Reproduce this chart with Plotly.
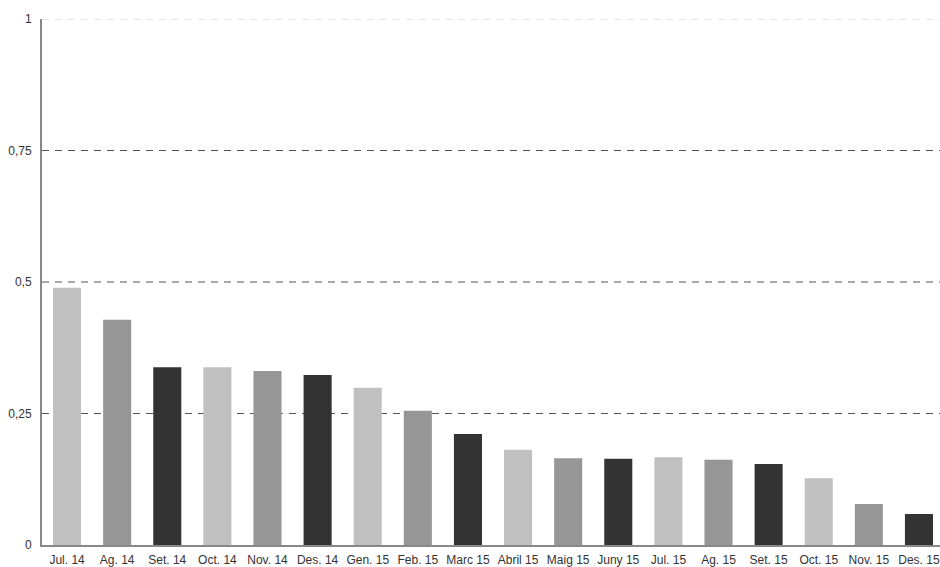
import plotly.graph_objects as go

categories = ["Jul. 14", "Ag. 14", "Set. 14", "Oct. 14", "Nov. 14", "Des. 14",
              "Gen. 15", "Feb. 15", "Marc 15", "Abril 15", "Maig 15", "Juny 15",
              "Jul. 15", "Ag. 15", "Set. 15", "Oct. 15", "Nov. 15", "Des. 15"]
values = [0.489, 0.428, 0.338, 0.338, 0.331, 0.323,
          0.299, 0.255, 0.211, 0.181, 0.165, 0.164,
          0.167, 0.162, 0.154, 0.127, 0.078, 0.059]
palette = ["#c0c0c0", "#969696", "#333333"]
colors = [palette[i % 3] for i in range(len(categories))]
ytick_vals = [0, 0.25, 0.5, 0.75, 1]
ytick_text = ["0", "0,25", "0,5", "0,75", "1"]

fig = go.Figure()
fig.add_trace(go.Bar(x=list(range(len(categories))), y=values,
                     marker=dict(color=colors, line=dict(width=0)),
                     width=0.56, hoverinfo="skip"))

# dashed grid lines
for v in ytick_vals[1:]:
    fig.add_shape(type="line", xref="paper", x0=0, x1=1, yref="y", y0=v, y1=v,
                  line=dict(color="#cccccc" if v == 1 else "#555555", width=1, dash="7px,6px"),
                  layer="below")

fig.update_layout(
    width=940, height=567,
    margin=dict(l=42, r=0, t=19, b=22, autoexpand=False),
    paper_bgcolor="white", plot_bgcolor="white",
    showlegend=False,
    font=dict(family="Liberation Sans, Arial, sans-serif", size=12, color="#333333"),
    xaxis=dict(range=[-0.5, 17.42], tickmode="array",
               tickvals=list(range(len(categories))), ticktext=categories,
               showgrid=False, zeroline=False, showline=True, linecolor="#888888",
               linewidth=2, ticks="", ticklabelstandoff=3,
               tickfont=dict(size=12, color="#333333")),
    yaxis=dict(range=[0, 1], tickmode="array", tickvals=ytick_vals, ticktext=ytick_text,
               showgrid=False, zeroline=False, showline=True, linecolor="#888888",
               linewidth=2, ticks="", ticklabelstandoff=6,
               tickfont=dict(size=12, color="#333333")),
)
fig.write_html("out.html", config={"displayModeBar": False},
               post_script="document.body.style.margin='0';document.body.style.padding='0';")
